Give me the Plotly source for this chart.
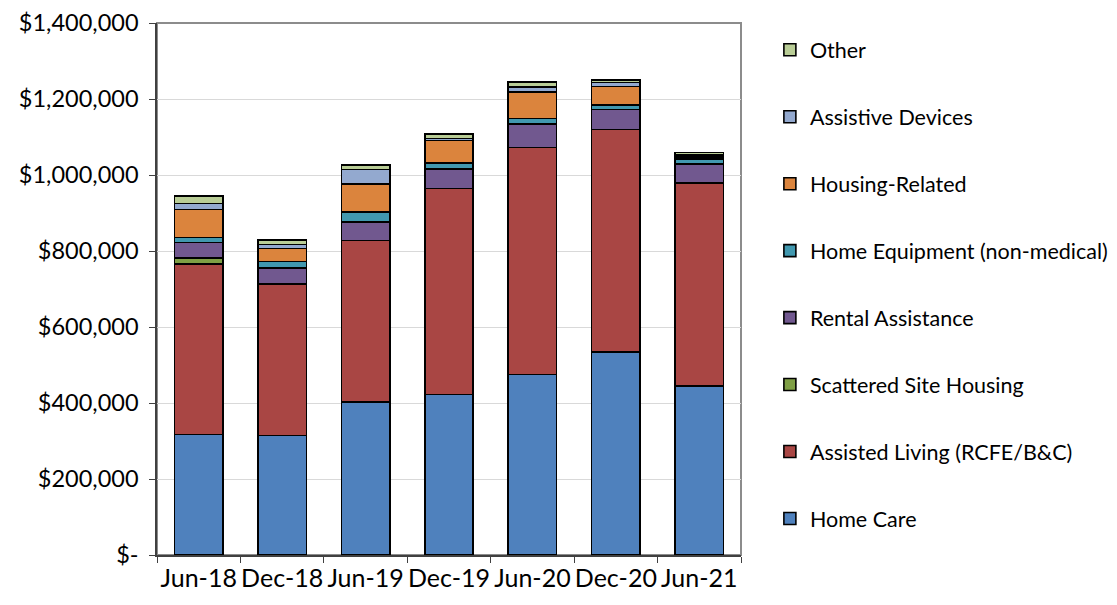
import plotly.graph_objects as go

periods = ["Jun-18", "Dec-18", "Jun-19", "Dec-19", "Jun-20", "Dec-20", "Jun-21"]

home_care = [317000, 314000, 402000, 422000, 475000, 535000, 445000]
assisted_living = [449000, 399000, 426000, 542000, 597000, 585000, 534000]
scattered_site = [15000, 0, 0, 0, 0, 0, 0]
rental_assistance = [41000, 42000, 48000, 52000, 63000, 52000, 50000]
home_equipment = [14000, 17000, 26000, 16000, 14000, 12000, 13000]
housing_related = [73000, 35000, 74000, 59000, 70000, 49000, 5000]
assistive_devices = [16000, 10000, 38000, 5000, 13000, 10000, 6000]
other = [19000, 12000, 13000, 12000, 13000, 7000, 6000]

series = [
    ("Home Care", home_care, "#4F81BD"),
    ("Assisted Living (RCFE/B&C)", assisted_living, "#A94644"),
    ("Scattered Site Housing", scattered_site, "#7F9F45"),
    ("Rental Assistance", rental_assistance, "#71588F"),
    ("Home Equipment (non-medical)", home_equipment, "#4198AF"),
    ("Housing-Related", housing_related, "#DB843D"),
    ("Assistive Devices", assistive_devices, "#93A9CF"),
    ("Other", other, "#B9CD96"),
]

y_tickvals = [0, 200000, 400000, 600000, 800000, 1000000, 1200000, 1400000]
y_ticktext = ["$-", "$200,000", "$400,000", "$600,000", "$800,000",
              "$1,000,000", "$1,200,000", "$1,400,000"]

FONT = "Lato"

fig = go.Figure()
n = len(series)
for i, (name, vals, color) in enumerate(series):
    fig.add_trace(go.Bar(
        x=periods, y=vals, name=name, legendgroup=name, legendrank=n - i,
        marker=dict(color=color, line=dict(color="#000000", width=1.6)),
    ))

fig.update_layout(
    width=1109, height=597,
    barmode="stack", bargap=0.42,
    plot_bgcolor="white", paper_bgcolor="white",
    margin=dict(l=149, r=376, t=15, b=50, autoexpand=False),
    font=dict(family=FONT, size=23, color="#000000"),
    showlegend=True,
    legend=dict(
        traceorder="grouped", tracegroupgap=36, maxheight=1.0,
        xref="container", yref="container",
        x=0.687, y=0.9643, xanchor="left", yanchor="top",
        font=dict(family=FONT, size=21.5, color="#000000"),
        bgcolor="rgba(0,0,0,0)",
    ),
    shapes=[dict(type="rect", xref="paper", yref="paper", x0=0, x1=1, y0=0, y1=1,
                 line=dict(color="#8C8C8C", width=2), layer="below")],
)

fig.update_xaxes(
    showline=True, linecolor="#404040", linewidth=1.5, automargin=False,
    ticks="outside", tickson="boundaries", ticklen=6, tickcolor="#404040",
    showgrid=False, tickfont=dict(family=FONT, size=25), tickangle=0,
    ticklabeloverflow="allow",
)
fig.update_yaxes(
    range=[0, 1400000], tickvals=y_tickvals, ticktext=y_ticktext,
    showline=True, linecolor="#404040", linewidth=1.5, automargin=False,
    ticks="outside", ticklen=6, tickcolor="#404040",
    showgrid=True, gridcolor="#D9D9D9", gridwidth=1,
    tickfont=dict(family=FONT, size=23.5), ticklabelstandoff=6,
    ticklabeloverflow="allow", zeroline=False,
)

fig.write_html("out.html")
